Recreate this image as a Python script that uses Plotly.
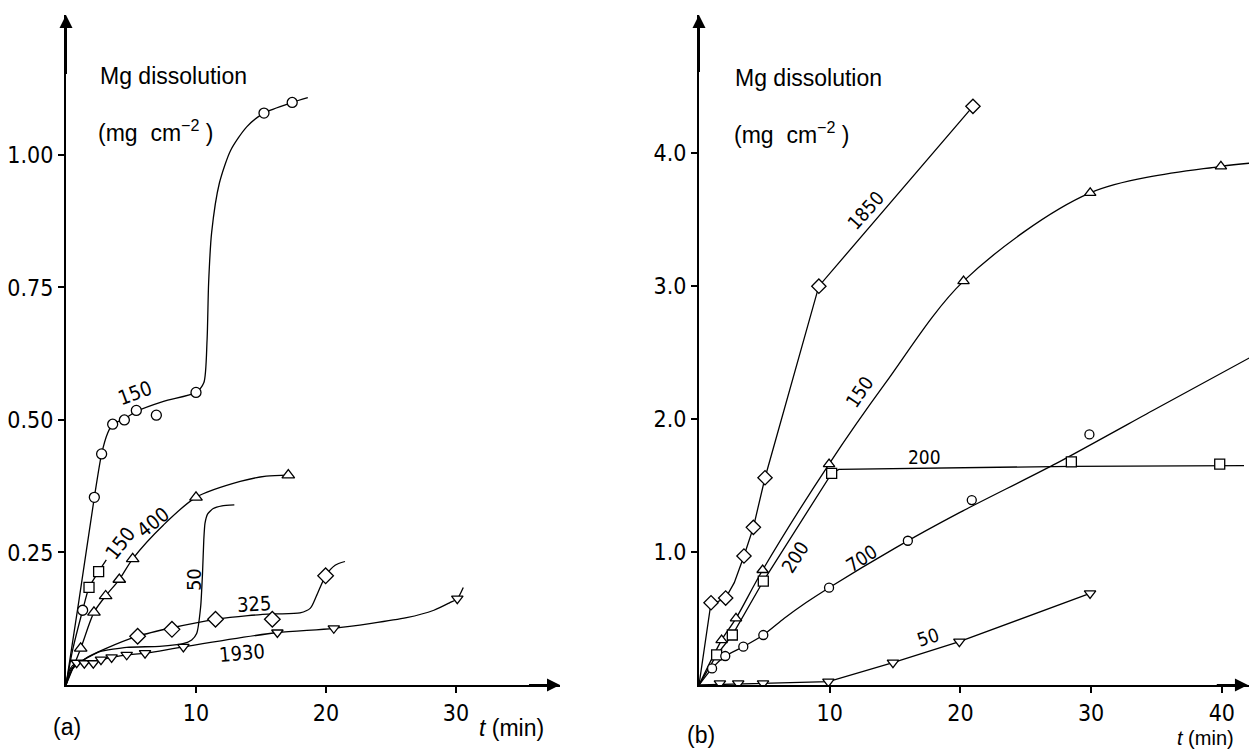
import plotly.graph_objects as go

# ---------------- panel (a) : data ----------------
# 150 (circles)
a150c_t = [1.28, 2.18, 2.74, 3.59, 4.49, 5.41, 6.95, 10.0, 15.23, 17.4]
a150c_y = [0.141, 0.354, 0.436, 0.492, 0.500, 0.518, 0.509, 0.552, 1.079, 1.099]
a150c_curve_t = [0, 1.0, 2.18, 2.74, 3.2, 3.59, 4.49, 5.41, 7.5, 10.0, 10.6, 10.85, 10.97, 11.2, 11.8, 12.67, 13.9, 15.23, 17.4, 18.6]
a150c_curve_y = [0, 0.16, 0.354, 0.436, 0.475, 0.492, 0.502, 0.516, 0.535, 0.552, 0.57, 0.65, 0.758, 0.853, 0.947, 1.009, 1.053, 1.079, 1.099, 1.108]
# 150 (squares)
a150s_t = [1.77, 2.51]
a150s_y = [0.184, 0.214]
a150s_curve_t = [0, 0.5, 1.28, 1.77, 2.51, 3.1]
a150s_curve_y = [0, 0.065, 0.141, 0.184, 0.214, 0.236]
# 400 (triangles)
a400_t = [1.13, 2.15, 3.05, 4.1, 5.13, 10.0, 17.1]
a400_y = [0.069, 0.137, 0.168, 0.199, 0.238, 0.354, 0.396]
a400_curve_t = [0, 1.13, 2.15, 3.05, 4.1, 5.13, 7.5, 10.0, 13.4, 15.4, 17.1]
a400_curve_y = [0, 0.069, 0.137, 0.168, 0.199, 0.238, 0.302, 0.354, 0.384, 0.394, 0.396]
# 50 (no symbols)
a50_curve_t = [0, 0.4, 1.2, 2.6, 4.67, 7.2, 9.0, 9.67, 10.05, 10.36, 10.5, 10.6, 10.69, 10.9, 11.33, 12.0, 12.95]
a50_curve_y = [0, 0.03, 0.045, 0.063, 0.071, 0.073, 0.078, 0.085, 0.097, 0.148, 0.21, 0.274, 0.305, 0.323, 0.333, 0.338, 0.34]
# 325 (diamonds)
a325_t = [5.51, 8.15, 11.5, 15.87, 19.97]
a325_y = [0.092, 0.105, 0.124, 0.124, 0.206]
a325_curve_t = [0, 0.5, 1.5, 3.0, 5.51, 8.15, 11.5, 14.0, 16.0, 18.0, 18.8, 19.3, 19.97, 20.7, 21.46]
a325_curve_y = [0, 0.03, 0.05, 0.068, 0.092, 0.108, 0.124, 0.131, 0.134, 0.136, 0.145, 0.17, 0.206, 0.226, 0.233]
# 1930 (inverted triangles)
a1930_t = [0.82, 1.41, 2.1, 2.69, 3.51, 4.67, 6.08, 9.03, 16.26, 20.6, 30.1]
a1930_y = [0.042, 0.041, 0.041, 0.048, 0.052, 0.057, 0.060, 0.072, 0.099, 0.107, 0.163]
a1930_curve_t = [0, 0.3, 0.82, 2.1, 3.51, 4.67, 6.08, 9.03, 16.26, 20.6, 26.2, 28.3, 29.5, 30.1, 30.56]
a1930_curve_y = [0, 0.03, 0.042, 0.044, 0.052, 0.057, 0.060, 0.072, 0.099, 0.107, 0.127, 0.141, 0.155, 0.163, 0.184]

# ---------------- panel (b) ----------------
b1850_t = [0.92, 2.04, 3.44, 4.16, 5.05, 9.17, 20.96]
b1850_y = [0.619, 0.654, 0.970, 1.186, 1.559, 3.0, 4.353]
b1850_curve_t = [0, 0.92, 1.4, 2.04, 2.7, 3.44, 4.16, 5.05, 9.17, 20.96]
b1850_curve_y = [0, 0.619, 0.625, 0.654, 0.77, 0.970, 1.186, 1.559, 3.0, 4.353]

b150_t = [1.73, 2.83, 4.87, 9.95, 20.24, 29.93, 39.93]
b150_y = [0.338, 0.501, 0.865, 1.662, 3.038, 3.702, 3.902]
b150_curve_t = [0, 1.73, 2.83, 4.87, 9.95, 14.26, 20.24, 29.93, 39.93, 42.1]
b150_curve_y = [0, 0.338, 0.501, 0.865, 1.662, 2.27, 3.038, 3.702, 3.902, 3.925]

b200_t = [1.35, 2.55, 4.92, 10.15, 28.49, 39.84]
b200_y = [0.226, 0.376, 0.782, 1.592, 1.679, 1.662]
b200_curve_t = [0, 1.35, 2.55, 4.92, 10.15, 10.7, 28.49, 41.7]
b200_curve_y = [0, 0.226, 0.376, 0.782, 1.592, 1.622, 1.645, 1.65]

b700_t = [1.0, 2.01, 3.39, 4.92, 9.95, 15.98, 20.87, 29.87]
b700_y = [0.125, 0.218, 0.288, 0.376, 0.732, 1.085, 1.391, 1.885]
b700_curve_t = [0, 1.0, 2.01, 3.39, 4.92, 6.5, 8.2, 9.95, 15.0, 20.0, 27.34, 35.0, 42.1]
b700_curve_y = [0, 0.125, 0.218, 0.288, 0.376, 0.50, 0.62, 0.732, 1.03, 1.30, 1.667, 2.08, 2.46]

b50_t = [1.6, 3.0, 4.9, 9.9, 14.84, 19.92, 29.92]
b50_y = [0.012, 0.012, 0.012, 0.025, 0.168, 0.326, 0.689]
b50_curve_t = [0, 9.9, 14.84, 19.92, 29.92]
b50_curve_y = [0, 0.025, 0.168, 0.326, 0.689]

# ---------------- figure ----------------
W, H = 1249, 750
NARROW = "Liberation Sans Narrow, DejaVu Sans Condensed, Arial Narrow, sans-serif"
REG = "Liberation Sans, Arial, sans-serif"

fig = go.Figure()


def curve(t, y, ax, smooth=0.8, shape="spline"):
    line = dict(color="black", width=1.3, shape=shape)
    if shape == "spline":
        line["smoothing"] = smooth
    fig.add_trace(go.Scatter(x=t, y=y, mode="lines", xaxis=ax[0], yaxis=ax[1],
                             line=line, showlegend=False, hoverinfo="skip"))


def marks(t, y, ax, symbol, size):
    fig.add_trace(go.Scatter(x=t, y=y, mode="markers", xaxis=ax[0], yaxis=ax[1],
                             marker=dict(symbol=symbol, size=size, color="white",
                                         line=dict(color="black", width=1.3)),
                             showlegend=False, hoverinfo="skip"))


A = ("x", "y")
B = ("x2", "y2")

curve(a150c_curve_t, a150c_curve_y, A, 0.7)
curve(a150s_curve_t, a150s_curve_y, A, 0.6)
curve(a400_curve_t, a400_curve_y, A, 0.8)
curve(a50_curve_t, a50_curve_y, A, 0.5)
curve(a325_curve_t, a325_curve_y, A, 0.7)
curve(a1930_curve_t, a1930_curve_y, A, 0.7)

marks(a150c_t, a150c_y, A, "circle", 10)
marks(a150s_t, a150s_y, A, "square", 10)
marks(a400_t, a400_y, A, "triangle-up", 11)
marks(a325_t, a325_y, A, "diamond", 12)
marks(a1930_t, a1930_y, A, "triangle-down", 10)

curve(b1850_curve_t, b1850_curve_y, B, shape="linear")
curve(b150_curve_t, b150_curve_y, B, 0.9)
curve(b200_curve_t, b200_curve_y, B, shape="linear")
curve(b700_curve_t, b700_curve_y, B, 0.6)
curve(b50_curve_t, b50_curve_y, B, shape="linear")

marks(b1850_t, b1850_y, B, "diamond", 11)
marks(b150_t, b150_y, B, "triangle-up", 10)
marks(b200_t, b200_y, B, "square", 10)
marks(b700_t, b700_y, B, "circle", 9)
marks(b50_t, b50_y, B, "triangle-down", 10)

axis_common = dict(showline=True, linecolor="black", linewidth=2, ticks="outside",
                   ticklen=6, tickwidth=1.5, tickcolor="black", showgrid=False,
                   zeroline=False, tickfont=dict(family=NARROW, size=23, color="black"),
                   fixedrange=True)

fig.update_layout(
    width=W, height=H, margin=dict(l=0, r=0, t=0, b=0),
    paper_bgcolor="white", plot_bgcolor="white",
    xaxis=dict(domain=[66 / W, 560 / W], range=[0, 38.0], anchor="y",
               tickvals=[10, 20, 30], ticktext=["10", "20", "30"], **axis_common),
    yaxis=dict(domain=[1 - 685 / H, 1 - 15 / H], range=[0, 1.264], anchor="x",
               tickvals=[0.25, 0.5, 0.75, 1.0], ticktext=["0.25", "0.50", "0.75", "1.00"],
               **axis_common),
    xaxis2=dict(domain=[699 / W, 1.0], range=[0, 42.08], anchor="y2",
                tickvals=[10, 20, 30, 40], ticktext=["10", "20", "30", "40"], **axis_common),
    yaxis2=dict(domain=[1 - 685 / H, 1 - 15 / H], range=[0, 5.04], anchor="x2",
                tickvals=[1, 2, 3, 4], ticktext=["1.0", "2.0", "3.0", "4.0"], **axis_common),
)

ann = []

# axis arrowheads
for xr, yr, x, y, ax_, ay_ in [("x", "y", 0, 1.264, 0, 1.15), ("x", "y", 38.0, 0, 35.5, 0),
                               ("x2", "y2", 0, 5.04, 0, 4.6), ("x2", "y2", 42.0, 0, 39.5, 0)]:
    ann.append(dict(x=x, y=y, ax=ax_, ay=ay_, xref=xr, yref=yr, axref=xr, ayref=yr,
                    showarrow=True, arrowhead=2, arrowsize=1.3, arrowwidth=2,
                    arrowcolor="black", text=""))

def ptext(text, px, py, size=23, xanchor="left", family=REG):
    ann.append(dict(text=text, x=px / W, y=1 - py / H, xref="paper", yref="paper",
                    xanchor=xanchor, yanchor="middle", showarrow=False,
                    font=dict(family=family, size=size, color="black")))

ptext("Mg dissolution", 98, 76)
ptext("(mg\u00a0\u00a0cm<sup>\u2212</sup><sup>2</sup>\u00a0)", 96, 131)
ptext("Mg dissolution", 733, 78)
ptext("(mg\u00a0\u00a0cm<sup>\u2212</sup><sup>2</sup>\u00a0)", 732, 133)
ptext("(a)", 67, 727, xanchor="center")
ptext("(b)", 701, 735, xanchor="center")
ptext("<i>t</i>\u00a0(min)", 512, 728, xanchor="center")
ptext("<i>t</i>\u00a0(min)", 1205, 738, size=20, xanchor="center")

def dtext(text, x, y, ang, xr, yr, size=20):
    ann.append(dict(text=text, x=x, y=y, xref=xr, yref=yr, textangle=ang,
                    showarrow=False, xanchor="center", yanchor="middle",
                    font=dict(family=NARROW, size=size, color="black")))

dtext("150", 5.3, 0.55, -20, "x", "y")
dtext("150", 4.18, 0.268, -52, "x", "y")
dtext("400", 6.72, 0.307, -39, "x", "y")
dtext("50", 9.85, 0.198, -90, "x", "y")
dtext("325", 14.46, 0.153, -3, "x", "y")
dtext("1930", 13.56, 0.061, -5, "x", "y")

dtext("1850", 12.77, 3.57, -48, "x2", "y2", 19)
dtext("150", 12.25, 2.205, -56, "x2", "y2", 19)
dtext("200", 17.28, 1.717, 0, "x2", "y2", 19)
dtext("200", 7.36, 0.96, -57, "x2", "y2", 19)
dtext("700", 12.45, 0.957, -33, "x2", "y2", 19)
dtext("50", 17.53, 0.363, -18, "x2", "y2", 19)

fig.update_layout(annotations=ann)

fig.write_html("out.html")
